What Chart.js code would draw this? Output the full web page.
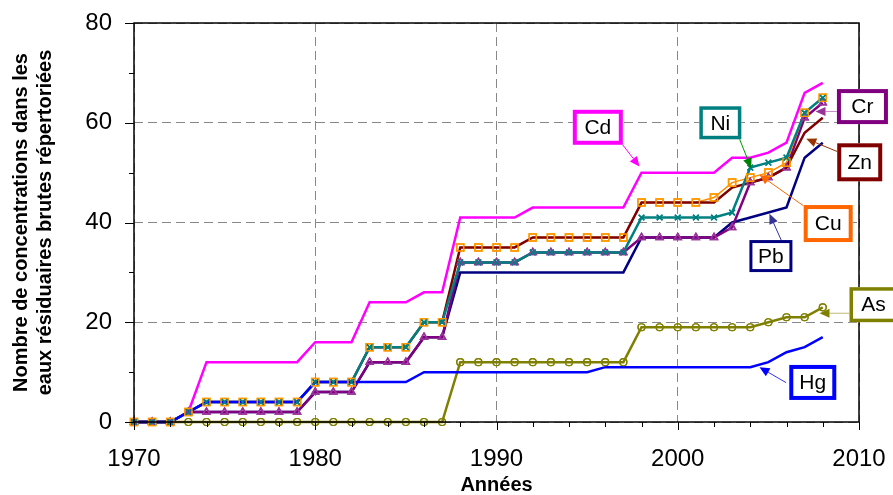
<!DOCTYPE html>
<html>
<head>
<meta charset="utf-8">
<script src="https://cdn.jsdelivr.net/npm/chart.js@4.4.0/dist/chart.umd.min.js"></script>
<style>
  html, body { margin: 0; padding: 0; background: #fff; }
  canvas { display: block; }
</style>
</head>
<body>
<canvas id="chart" width="893" height="495"></canvas>
<script>
// years of the series
const years = [1970, 1971, 1972, 1973, 1974, 1975, 1976, 1977, 1978, 1979,
               1980, 1981, 1982, 1983, 1984, 1985, 1986, 1987, 1988, 1989,
               1990, 1991, 1992, 1993, 1994, 1995, 1996, 1997, 1998, 1999,
               2000, 2001, 2002, 2003, 2004, 2005, 2006, 2007, 2008];

// number of concentrations per metal
const cd = [0, 0, 0, 2, 12, 12, 12, 12, 12, 12, 16, 16, 16, 24, 24, 24, 26, 26, 41, 41,
            41, 41, 43, 43, 43, 43, 43, 43, 50, 50, 50, 50, 50, 53, 53, 54, 56, 66, 68];
const cu = [0, 0, 0, 2, 4, 4, 4, 4, 4, 4, 8, 8, 8, 15, 15, 15, 20, 20, 35, 35,
            35, 35, 37, 37, 37, 37, 37, 37, 44, 44, 44, 44, 45, 48, 49, 50, 52, 62, 65];
const zn = [0, 0, 0, 2, 4, 4, 4, 4, 4, 4, 8, 8, 8, 15, 15, 15, 20, 20, 35, 35,
            35, 35, 37, 37, 37, 37, 37, 37, 44, 44, 44, 44, 44, 47, 48, 49, 51, 58, 61];
const ni = [0, 0, 0, 2, 4, 4, 4, 4, 4, 4, 8, 8, 8, 15, 15, 15, 20, 20, 32, 32,
            32, 32, 34, 34, 34, 34, 34, 34, 41, 41, 41, 41, 41, 42, 51, 52, 53, 62, 65];
const cr = [0, 0, 0, 2, 2, 2, 2, 2, 2, 2, 6, 6, 6, 12, 12, 12, 17, 17, 32, 32,
            32, 32, 34, 34, 34, 34, 34, 34, 37, 37, 37, 37, 37, 39, 48, 49, 51, 61, 64];
const pb = [0, 0, 0, 2, 2, 2, 2, 2, 2, 2, 6, 6, 6, 12, 12, 12, 17, 17, 30, 30,
            30, 30, 30, 30, 30, 30, 30, 30, 37, 37, 37, 37, 37, 40, 41, 42, 43, 53, 56];
const as = [0, 0, 0, 0, 0, 0, 0, 0, 0, 0, 0, 0, 0, 0, 0, 0, 0, 0, 12, 12,
            12, 12, 12, 12, 12, 12, 12, 12, 19, 19, 19, 19, 19, 19, 19, 20, 21, 21, 23];
const hg = [0, 0, 0, 2, 4, 4, 4, 4, 4, 4, 8, 8, 8, 8, 8, 8, 10, 10, 10, 10,
            10, 10, 10, 10, 10, 10, 11, 11, 11, 11, 11, 11, 11, 11, 11, 12, 14, 15, 17];

const xTicks = [1970, 1980, 1990, 2000, 2010];
const yTicks = [0, 20, 40, 60, 80];
const xMinor = [1972, 1974, 1976, 1978, 1982, 1984, 1986, 1988, 1992, 1994, 1996, 1998,
                2002, 2004, 2006, 2008];
const yMinor = [10, 30, 50, 70];

const pts = vals => years.map((yr, i) => ({ x: yr, y: vals[i] }));

// callout boxes: centre, arrow start and arrow tip in data units
const callouts = [
  { name: 'Cd', color: '#FF00FF', arrow: '#FF00FF', head: '#FF00FF', bw: 4, w: 50, h: 35, cx: 1995.59, cy: 59.09, sx: 1996.96, sy: 55.58, tx: 1997.89, ty: 51.22 },
  { name: 'Ni', color: '#008080', arrow: '#009900', head: '#008000', bw: 3.5, w: 42, h: 33, cx: 2002.35, cy: 59.99, sx: 2003.41, sy: 56.72, tx: 2004.05, ty: 50.9 },
  { name: 'Cr', color: '#800080', arrow: '#CC88CC', head: '#993399', bw: 4, w: 51, h: 35, cx: 2010.19, cy: 63.24, sx: 2008.80, sy: 62.26, tx: 2007.6, ty: 62.26 },
  { name: 'Zn', color: '#800000', arrow: '#993300', head: '#993300', bw: 4, w: 45, h: 38, cx: 2010.04, cy: 52.07, sx: 2008.80, sy: 54.23, tx: 2007.09, ty: 56.78 },
  { name: 'Cu', color: '#FF6600', arrow: '#FF6600', head: '#FF6600', bw: 4, w: 49, h: 37, cx: 2008.30, cy: 39.79, sx: 2006.94, sy: 43.34, tx: 2004.51, ty: 49.56 },
  { name: 'Pb', color: '#000080', arrow: '#333399', head: '#333399', bw: 3, w: 43, h: 32, cx: 2005.14, cy: 33.27, sx: 2005.71, sy: 36.46, tx: 2005.06, ty: 41.73 },
  { name: 'As', color: '#808000', arrow: '#BBBB77', head: '#808000', bw: 3.5, w: 48, h: 35, cx: 2010.80, cy: 23.52, sx: 2009.48, sy: 21.81, tx: 2007.82, ty: 21.81 },
  { name: 'Hg', color: '#0000FF', arrow: '#3333FF', head: '#0000FF', bw: 4, w: 47, h: 35, cx: 2007.45, cy: 7.93, sx: 2005.98, sy: 7.89, tx: 2004.51, ty: 10.98 }
];

const frame = {
  id: 'frame',
  afterDatasetsDraw(chart) {
    const { ctx, chartArea: a, scales: { x, y } } = chart;
    // markers on top of every line
    const metas = chart.getSortedVisibleDatasetMetas().slice().reverse();
    metas.forEach(m => m.data.forEach(p => p.draw(ctx, a)));

    ctx.save();
    ctx.strokeStyle = '#000';
    ctx.lineWidth = 1.5;
    ctx.strokeRect(a.left, a.top, a.right - a.left, a.bottom - a.top);
    ctx.lineWidth = 1;
    ctx.beginPath();
    xTicks.forEach(v => { const px = Math.round(x.getPixelForValue(v)) + 0.5; ctx.moveTo(px, a.bottom); ctx.lineTo(px, a.bottom + 8); });
    xMinor.forEach(v => { const px = Math.round(x.getPixelForValue(v)) + 0.5; ctx.moveTo(px, a.bottom); ctx.lineTo(px, a.bottom + 5); });
    yTicks.forEach(v => { const py = Math.round(y.getPixelForValue(v)) + 0.5; ctx.moveTo(a.left - 9, py); ctx.lineTo(a.left, py); });
    yMinor.forEach(v => { const py = Math.round(y.getPixelForValue(v)) + 0.5; ctx.moveTo(a.left - 5, py); ctx.lineTo(a.left, py); });
    ctx.stroke();

    callouts.forEach(c => {
      const sx = x.getPixelForValue(c.sx), sy = y.getPixelForValue(c.sy);
      const tx = x.getPixelForValue(c.tx), ty = y.getPixelForValue(c.ty);
      const ang = Math.atan2(ty - sy, tx - sx);
      const len = 10, half = 4.5;
      const bx = tx - len * Math.cos(ang), by = ty - len * Math.sin(ang);
      ctx.strokeStyle = c.arrow;
      ctx.lineWidth = 1;
      ctx.beginPath();
      ctx.moveTo(sx, sy);
      ctx.lineTo(bx, by);
      ctx.stroke();
      ctx.fillStyle = c.head;
      ctx.beginPath();
      ctx.moveTo(tx, ty);
      ctx.lineTo(bx + half * Math.sin(ang), by - half * Math.cos(ang));
      ctx.lineTo(bx - half * Math.sin(ang), by + half * Math.cos(ang));
      ctx.closePath();
      ctx.fill();

      const cx = x.getPixelForValue(c.cx), cy = y.getPixelForValue(c.cy);
      ctx.fillStyle = '#fff';
      ctx.fillRect(cx - c.w / 2, cy - c.h / 2, c.w, c.h);
      ctx.strokeStyle = c.color;
      ctx.lineWidth = c.bw;
      ctx.strokeRect(cx - c.w / 2 + c.bw / 2, cy - c.h / 2 + c.bw / 2, c.w - c.bw, c.h - c.bw);
      ctx.fillStyle = '#000';
      ctx.font = '21px "Liberation Sans", Arial, sans-serif';
      ctx.textAlign = 'center';
      ctx.textBaseline = 'middle';
      ctx.fillText(c.name, cx, cy + 1);
    });
    ctx.restore();
  }
};

Chart.defaults.font.family = '"Liberation Sans", Arial, sans-serif';
Chart.defaults.color = '#000';

const line = (label, vals, color, width, extra) => Object.assign({
  label: label,
  data: pts(vals),
  borderColor: color,
  backgroundColor: color,
  borderWidth: width,
  pointRadius: 0,
  tension: 0,
  clip: false
}, extra || {});

const hidden = 'rgba(0,0,0,0)';

new Chart(document.getElementById('chart'), {
  type: 'line',
  data: {
    datasets: [
      line('Hg', hg, '#0000FF', 2.5),
      line('Ni', ni, '#008080', 2.5, { pointStyle: 'crossRot', pointRadius: 4, pointBorderColor: '#008080', pointBorderWidth: 1.5 }),
      line('Zn', zn, '#800000', 2.5),
      line('Cu', cu, '#FF8C00', 1.5, { pointStyle: 'rect', pointRadius: 5, pointBorderColor: '#FF9900', pointBackgroundColor: hidden, pointBorderWidth: 1.5 }),
      line('Cr', cr, '#800080', 2.5, { pointStyle: 'triangle', pointRadius: 4, pointBorderColor: '#993399', pointBackgroundColor: hidden, pointBorderWidth: 1.5 }),
      line('Pb', pb, '#000080', 2.5),
      line('As', as, '#808000', 2.5, { pointStyle: 'circle', pointRadius: 3.5, pointBorderColor: '#808000', pointBackgroundColor: hidden, pointBorderWidth: 1.2 }),
      line('Cd', cd, '#FF00FF', 2.5)
    ]
  },
  options: {
    responsive: false,
    animation: false,
    layout: { padding: { left: 0, top: 23, right: 34, bottom: 0 } },
    plugins: { legend: { display: false }, tooltip: { enabled: false } },
    scales: {
      x: {
        type: 'linear',
        min: 1970,
        max: 2010,
        afterBuildTicks: s => { s.ticks = xTicks.map(v => ({ value: v })); },
        afterFit: s => { s.height = 73; },
        ticks: { padding: 0, font: { size: 24 }, callback: v => String(v) },
        grid: { color: '#888', lineWidth: 1, drawTicks: true, tickLength: 23, tickColor: hidden },
        border: { display: false, dash: [9, 5] },
        title: { display: true, text: 'Années', font: { size: 20, weight: 'bold', lineHeight: 1 }, padding: { top: 0, bottom: 0 } }
      },
      y: {
        min: 0,
        max: 80,
        afterBuildTicks: s => { s.ticks = yTicks.map(v => ({ value: v })); },
        afterFit: s => { s.width = 134; },
        ticks: { padding: 0, font: { size: 24 } },
        grid: { color: '#888', lineWidth: 1, drawTicks: true, tickLength: 22, tickColor: hidden },
        border: { display: false, dash: [9, 5] },
        title: {
          display: true,
          text: ['Nombre de concentrations dans les', 'eaux résiduaires brutes répertoriées'],
          font: { size: 20, weight: 'bold', lineHeight: 1.2 },
          padding: { top: 9, bottom: 0 }
        }
      }
    }
  },
  plugins: [frame]
});
</script>
</body>
</html>
